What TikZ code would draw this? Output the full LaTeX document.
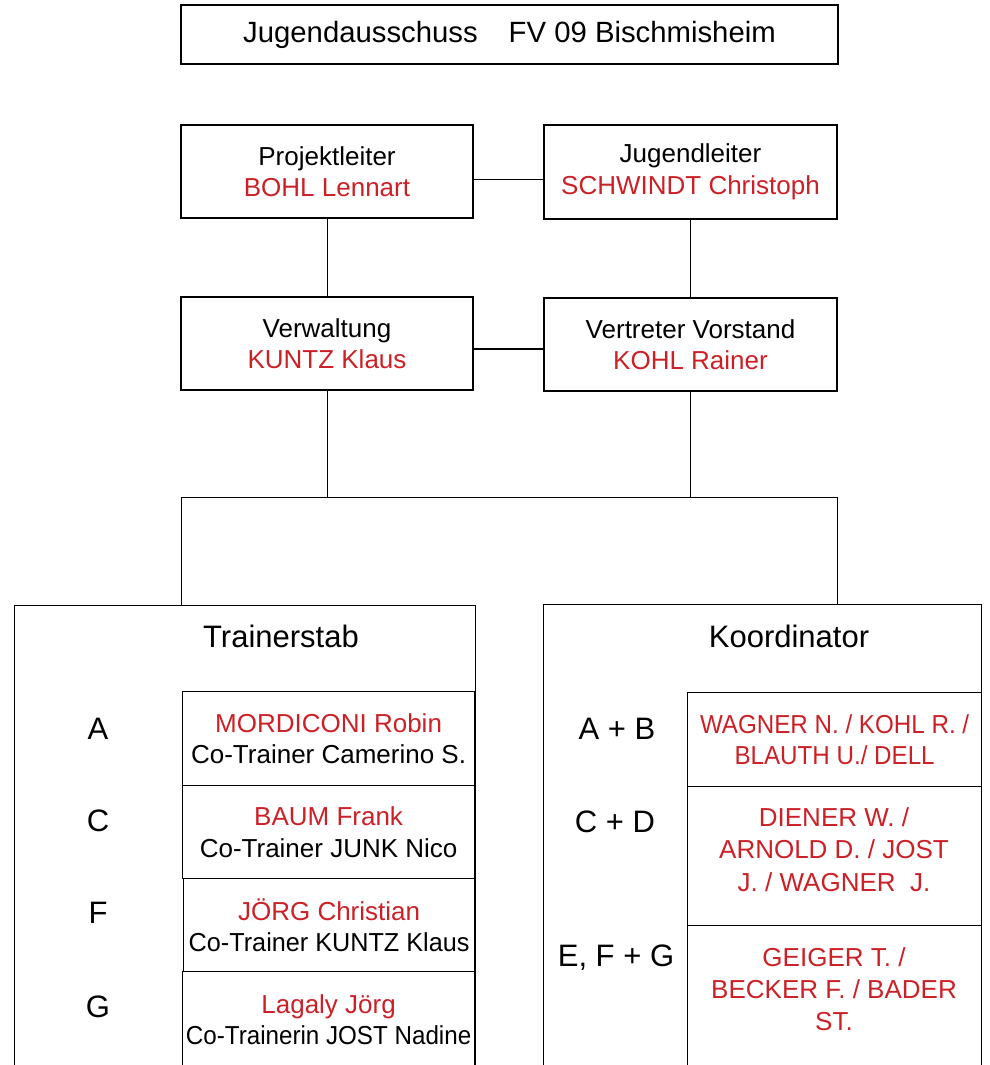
\documentclass[tikz,border=0pt]{standalone}
\usepackage{fontspec}
\setmainfont{Liberation Sans}
\newfontfamily\narrowfont{Liberation Sans}[FakeStretch=0.93]
\newfontfamily\slimfont{Liberation Sans}[FakeStretch=0.97]
\usepackage{tikz}
\definecolor{namered}{RGB}{204,32,39}

\begin{document}
\begin{tikzpicture}[x=1pt,y=1pt,yscale=-1,
  box/.style={draw,rectangle,line width=1.2pt,inner sep=0pt,align=center,font=\fontsize{26}{31.5}\selectfont},
  head/.style={inner sep=0pt,font=\fontsize{31}{36}\selectfont},
  tag/.style={inner sep=0pt,font=\fontsize{31}{36}\selectfont},
  names/.style={inner sep=0pt,align=center,text=namered,font=\fontsize{26}{32.3}\selectfont},
  conn/.style={line width=0.9pt}]
\useasboundingbox (0,0) rectangle (989,1065);

%Shape: Rectangle [title]
\node[box,minimum width=657,minimum height=59] (title) at (509.5,34.5) {\fontsize{29.3}{34}\selectfont Jugendausschuss\hspace{31pt}FV 09 Bischmisheim};

%Shape: Rectangle [top row]
\node[box,minimum width=292,minimum height=93] (projekt) at (327,171.5) {Projektleiter\\\textcolor{namered}{BOHL Lennart}};
\node[box,minimum width=293,minimum height=94] (jugend) at (690.5,172) {Jugendleiter\\\textcolor{namered}{SCHWINDT Christoph}};
%Shape: Rectangle [second row]
\node[box,minimum width=292,minimum height=93] (verwaltung) at (327,343.5) {Verwaltung\\\textcolor{namered}{KUNTZ Klaus}};
\node[box,minimum width=293,minimum height=93] (vorstand) at (690.5,344.5) {Vertreter Vorstand\\\textcolor{namered}{KOHL Rainer}};

%Shape: Rectangle [panels]
\node[box,minimum width=461,minimum height=480,anchor=north west] (trainer) at (14,605) {};
\node[box,minimum width=438,minimum height=480,anchor=north west] (koord) at (543,604) {};
% Text Node
\node[head] (trainerhead) at (281,636) {Trainerstab};
% Text Node
\node[head] (koordhead) at (789,636) {Koordinator};

%Shape: Rectangle [Trainerstab cells]
\node[box,minimum width=292,minimum height=94,anchor=north west] (teamA) at (182,691) {\textcolor{namered}{MORDICONI Robin}\\Co-Trainer Camerino S.};
\node[box,minimum width=292,minimum height=93,anchor=north west] (teamC) at (182,785) {\textcolor{namered}{BAUM Frank}\\Co-Trainer JUNK Nico};
\node[box,minimum width=291,minimum height=93,anchor=north west] (teamF) at (183,878) {\textcolor{namered}{JÖRG Christian}\\{\slimfont Co-Trainer KUNTZ Klaus}};
\node[box,minimum width=292,minimum height=96,anchor=north west] (teamG) at (182,971) {\textcolor{namered}{Lagaly Jörg}\\{\narrowfont Co-Trainerin JOST Nadine}};
% Text Node
\node[tag] (tagA) at (98,729) {A};
\node[tag] (tagC) at (98,821) {C};
\node[tag] (tagF) at (98,913) {F};
\node[tag] (tagG) at (98,1007) {G};

%Shape: Rectangle [Koordinator cells]
\node[box,minimum width=294,minimum height=94,anchor=north west] (koordAB) at (687,692) {\narrowfont\textcolor{namered}{WAGNER N. / KOHL R. /}\\\narrowfont\textcolor{namered}{BLAUTH U./ DELL}};
\node[box,minimum width=294,minimum height=139,anchor=north west] (koordCD) at (687,786) {};
\node[box,minimum width=294,minimum height=150,anchor=north west] (koordEFG) at (687,925) {};
% Text Node
\node[names] (namesCD) at (834,849.5) {DIENER W. /\\ARNOLD D. / JOST\\J. / WAGNER\ \ J.};
% Text Node
\node[names] (namesEFG) at (834,989) {GEIGER T. /\\BECKER F. / BADER\\ST.};
% Text Node
\node[tag] (tagAB) at (617,729) {A + B};
\node[tag] (tagCD) at (615,822) {C + D};
\node[tag] (tagEFG) at (616,958) {E, F + G};

%Straight Lines
\draw[conn] (projekt.-3.3) -- (projekt.-3.3 -| jugend.west);
\draw[conn] (projekt.south) -- (verwaltung.north);
\draw[conn] (jugend.south) -- (vorstand.north);
\draw[line width=2.2pt] (verwaltung.-2.6) -- (verwaltung.-2.6 -| vorstand.west);
%Straight Lines [bus]
\coordinate (busL) at (181,497);
\coordinate (busR) at (837,497);
\draw[conn] (verwaltung.south) -- (verwaltung.south |- busL);
\draw[conn] (vorstand.south) -- (vorstand.south |- busL);
\draw[conn] (trainer.north -| busL) -- (busL) -- (busR) -- (busR |- koord.north);
\end{tikzpicture}
\end{document}
